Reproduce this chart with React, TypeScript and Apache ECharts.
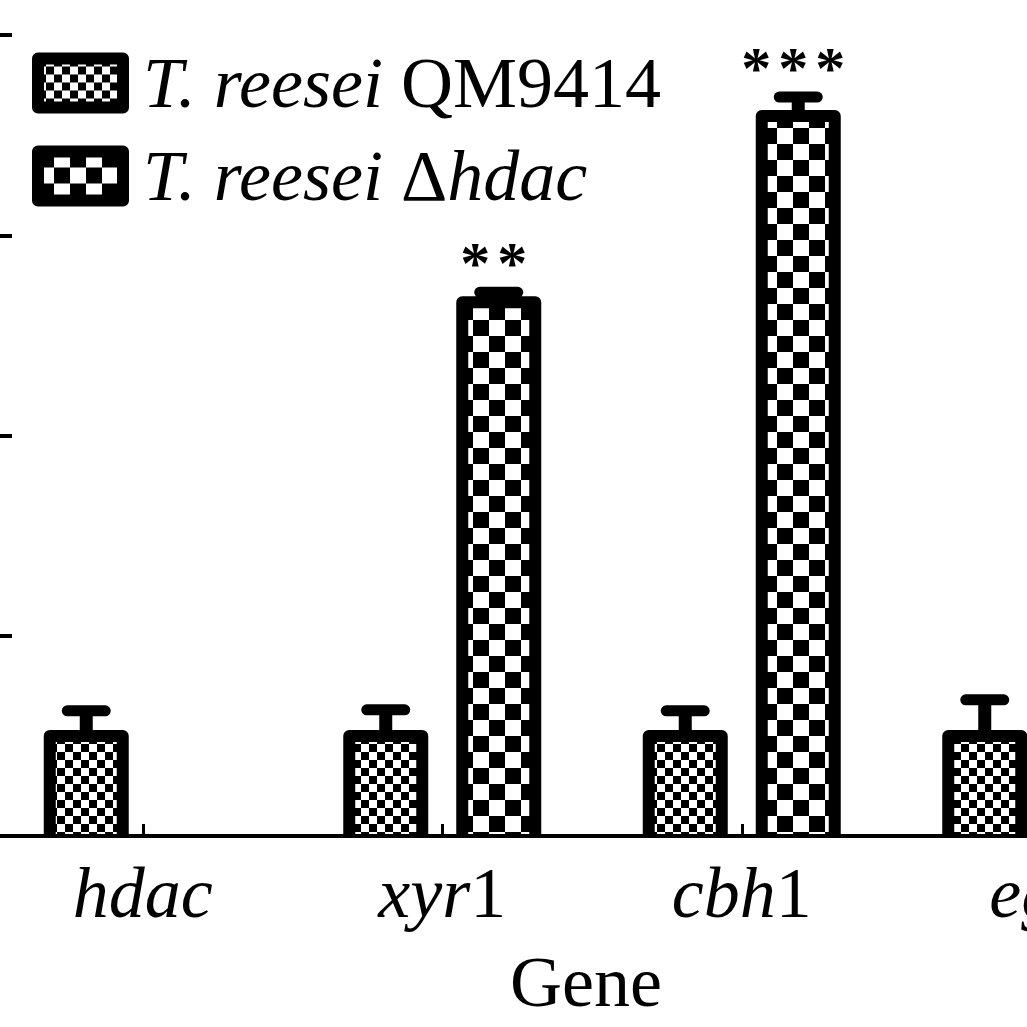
import React, { useEffect, useRef } from 'react';
import * as echarts from 'echarts';

// ---- data ----
const categories = ['hdac', 'xyr1', 'cbh1', 'eg1'];
const seriesNames = ['T. reesei QM9414', 'T. reesei Δhdac'];
const qmValues = [1.0, 1.0, 1.0, 1.0];
const qmErrorTops = [1.25, 1.26, 1.25, 1.36];
const hdacValues: (number | null)[] = [0, 5.33, 7.19, null];
const hdacErrorTops: (number | null)[] = [null, 5.43, 7.38, null];
const hdacStars = [0, 2, 3, 0];
const yMin = 0;
const yMax = 8;
const yInterval = 2;

const FONT = '"Liberation Serif", "Times New Roman", serif';
const BAR_WIDTH = 73;
const BAR_GAP_PX = 40;
const BORDER = 12;
const SHIFT = 7; // chart canvas starts 7px left of the page

function makeChecker(cell: number) {
  const c = document.createElement('canvas');
  c.width = cell * 2;
  c.height = cell * 2;
  const ctx = c.getContext('2d')!;
  ctx.fillStyle = '#fff';
  ctx.fillRect(0, 0, cell * 2, cell * 2);
  ctx.fillStyle = '#000';
  ctx.fillRect(0, 0, cell, cell);
  ctx.fillRect(cell, cell, cell, cell);
  return c;
}

export default function App() {
  const ref = useRef<HTMLDivElement>(null);
  useEffect(() => {
    if (!ref.current) return;
    const chart = echarts.init(ref.current, null, { renderer: 'svg' });
    const fine = makeChecker(8);
    const coarse = makeChecker(16);
    const finePattern: any = { image: fine, repeat: 'repeat', imageWidth: 16, imageHeight: 16 };
    const coarsePattern: any = { image: coarse, repeat: 'repeat', imageWidth: 32, imageHeight: 32 };

    const overlayData: number[][] = [];
    categories.forEach((_, i) => {
      overlayData.push([i, qmValues[i], qmErrorTops[i], 0, 0]);
      const hv = hdacValues[i];
      if (hv != null && hv > 0) {
        overlayData.push([i, hv, hdacErrorTops[i] ?? hv, 1, hdacStars[i]]);
      }
    });

    const offset = (BAR_WIDTH + BAR_GAP_PX) / 2;

    const renderItem = (params: any, api: any) => {
      const idx = api.value(0);
      const v = api.value(1);
      const hi = api.value(2);
      const sIdx = api.value(3);
      const stars = api.value(4);
      const base = api.coord([idx, 0]);
      const top = api.coord([idx, v]);
      const err = api.coord([idx, hi]);
      const cx = base[0] + (sIdx === 0 ? -offset : offset);
      const x0 = cx - BAR_WIDTH / 2;
      const x1 = cx + BAR_WIDTH / 2;
      const children: any[] = [
        {
          type: 'polyline',
          shape: { points: [[x0, base[1]], [x0, top[1]], [x1, top[1]], [x1, base[1]]] },
          style: { fill: 'none', stroke: '#000', lineWidth: BORDER, lineJoin: 'round' },
        },
        {
          type: 'line',
          shape: { x1: cx, y1: top[1], x2: cx, y2: err[1] },
          style: { stroke: '#000', lineWidth: 13 },
        },
        {
          type: 'line',
          shape: { x1: cx - 19, y1: err[1], x2: cx + 19, y2: err[1] },
          style: { stroke: '#000', lineWidth: 11, lineCap: 'round' },
        },
      ];
      for (let k = 0; k < stars; k++) {
        const sx = cx - 5 + (k - (stars - 1) / 2) * 37;
        children.push({
          type: 'text',
          style: {
            x: sx,
            y: err[1] - 29,
            text: '*',
            fill: '#000',
            font: `bold 60px ${FONT}`,
            align: 'center',
            verticalAlign: 'middle',
          },
        });
      }
      return { type: 'group', children };
    };

    const italicRich = {
      i: { fontFamily: FONT, fontStyle: 'italic', fontSize: 72, color: '#000', lineHeight: 80 },
      r: { fontFamily: FONT, fontSize: 72, color: '#000', lineHeight: 80 },
    };

    chart.setOption({
      animation: false,
      backgroundColor: '#fff',
      grid: { left: 0, right: 0, top: 35, bottom: 190, containLabel: false },
      legend: {
        data: seriesNames,
        orient: 'vertical',
        left: 27 + SHIFT,
        top: 42,
        itemWidth: 85,
        itemHeight: 49,
        itemGap: 21,
        icon: 'rect',
        selectedMode: false,
        itemStyle: { borderColor: '#000', borderWidth: BORDER, borderJoin: 'round' },
        textStyle: {
          fontFamily: FONT,
          fontSize: 72,
          color: '#000',
          padding: [0, 0, 0, 15],
          rich: {
            i: { fontFamily: FONT, fontStyle: 'italic', fontSize: 72, color: '#000', lineHeight: 49 },
            r: { fontFamily: FONT, fontSize: 72, color: '#000', lineHeight: 49 },
          },
        },
        formatter: (name: string) =>
          name === seriesNames[0] ? '{i|T. reesei} {r|QM9414}' : '{i|T. reesei} {r|Δ}{i|hdac}',
      },
      xAxis: {
        type: 'category',
        data: categories,
        z: 5,
        name: 'Gene',
        nameLocation: 'middle',
        nameGap: 106,
        nameTextStyle: { fontFamily: FONT, fontSize: 72, color: '#000', lineHeight: 80, padding: [0, 12, 0, 0] },
        axisLine: { show: true, lineStyle: { color: '#000', width: 4 } },
        axisTick: { show: true, inside: true, alignWithLabel: true, length: 12, lineStyle: { color: '#000', width: 3 } },
        axisLabel: {
          margin: 17,
          formatter: (v: string) => {
            const m = v.match(/^(.*?)(\d+)$/);
            return m ? `{i|${m[1]}}{r|${m[2]}}` : `{i|${v}}`;
          },
          rich: italicRich,
        },
        splitLine: { show: false },
      },
      yAxis: {
        type: 'value',
        min: yMin,
        max: yMax,
        interval: yInterval,
        axisLine: { show: true, lineStyle: { color: '#000', width: 4 } },
        axisTick: { show: true, inside: true, length: 19, lineStyle: { color: '#000', width: 4 } },
        axisLabel: { show: false },
        splitLine: { show: false },
      },
      series: [
        {
          name: seriesNames[0],
          type: 'bar',
          data: qmValues,
          barWidth: BAR_WIDTH,
          barGap: `${(BAR_GAP_PX / BAR_WIDTH) * 100}%`,
          itemStyle: { color: finePattern, borderWidth: 0 },
        },
        {
          name: seriesNames[1],
          type: 'bar',
          data: hdacValues.map((v) => (v == null ? '-' : v)),
          barWidth: BAR_WIDTH,
          barGap: `${(BAR_GAP_PX / BAR_WIDTH) * 100}%`,
          itemStyle: { color: coarsePattern, borderWidth: 0 },
        },
        {
          name: 'outline',
          type: 'custom',
          renderItem,
          data: overlayData,
          encode: { x: 0, y: 1 },
          z: 4,
          silent: true,
        },
      ],
    });
    return () => chart.dispose();
  }, []);
  return (
    <div style={{ position: 'fixed', left: 0, top: 0, width: 1027, height: 1027, overflow: 'hidden', background: '#fff' }}>
      <div ref={ref} style={{ position: 'absolute', left: -SHIFT, top: 0, width: 1198, height: 1027 }} />
    </div>
  );
}
